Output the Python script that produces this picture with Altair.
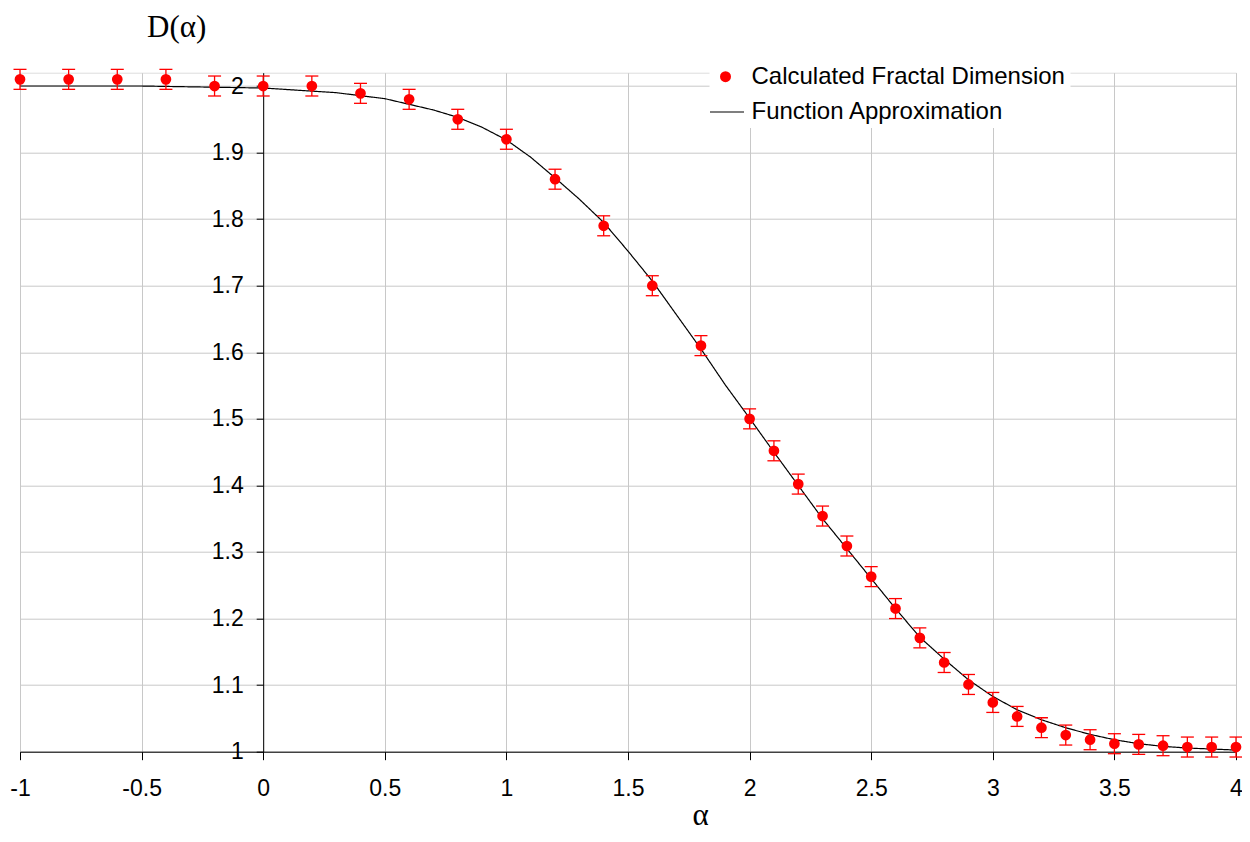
import altair as alt
import pandas as pd

# Calculated fractal dimension (points with error bars)
pt_x = [-1, -0.8, -0.6, -0.4, -0.2, 0, 0.2, 0.4, 0.6, 0.8, 1.0, 1.2, 1.4, 1.6, 1.8,
        2.0, 2.1, 2.2, 2.3, 2.4, 2.5, 2.6, 2.7, 2.8, 2.9, 3.0, 3.1, 3.2, 3.3, 3.4,
        3.5, 3.6, 3.7, 3.8, 3.9, 4.0]
pt_y = [2.01, 2.01, 2.01, 2.01, 2.00, 2.00, 2.00, 1.989, 1.98, 1.95, 1.92, 1.86, 1.79,
        1.70, 1.61, 1.50, 1.452, 1.402, 1.354, 1.309, 1.263, 1.215, 1.171, 1.134,
        1.101, 1.074, 1.053, 1.036, 1.025, 1.018, 1.012, 1.011, 1.009, 1.007, 1.007,
        1.007]
pt_err = [0.015] * len(pt_x)

# Function approximation (line)
ln_x = [-1, -0.5, 0, 0.3, 0.5, 0.7, 0.8, 0.9, 1.0, 1.1, 1.2, 1.3, 1.4, 1.5, 1.6, 1.7,
        1.8, 1.9, 2.0, 2.1, 2.2, 2.3, 2.4, 2.5, 2.6, 2.7, 2.8, 2.9, 3.0, 3.1, 3.2,
        3.3, 3.4, 3.5, 3.6, 3.7, 3.8, 3.9, 4.0]
ln_y = [2.000, 2.000, 1.997, 1.990, 1.981, 1.964, 1.953, 1.938, 1.919, 1.893, 1.862,
        1.830, 1.795, 1.752, 1.707, 1.656, 1.605, 1.551, 1.501, 1.450, 1.400, 1.350,
        1.305, 1.260, 1.215, 1.172, 1.139, 1.108, 1.083, 1.063, 1.048, 1.036, 1.026,
        1.018, 1.012, 1.008, 1.0055, 1.004, 1.0025]

x_ticks = [-1, -0.5, 0, 0.5, 1, 1.5, 2, 2.5, 3, 3.5, 4]
y_ticks = [1, 1.1, 1.2, 1.3, 1.4, 1.5, 1.6, 1.7, 1.8, 1.9, 2]

series_pts = "Calculated Fractal Dimension"
series_line = "Function Approximation"

pts = pd.DataFrame({"x": pt_x, "y": pt_y, "err": pt_err})
pts["lo"] = pts["y"] - pts["err"]
pts["hi"] = pts["y"] + pts["err"]
pts["series"] = series_pts
line = pd.DataFrame({"x": ln_x, "y": ln_y, "series": series_line})

W, H = 1216, 679
XOFF = W / 5.0  # pixel distance from alpha=-1 to alpha=0
SANS = "Liberation Sans"
SERIF = "Liberation Serif"
RED = "#ff0000"

x_axis = alt.Axis(
    values=x_ticks, labelExpr="'' + datum.value", grid=True, gridColor="#c8c8c8",
    gridWidth=1, domainColor="black", tickColor="black", tickSize=8,
    labelFont=SANS, labelFontSize=23, labelColor="black", labelPadding=18,
    labelFlush=False, labelOverlap=False,
    title="α", titleFont=SERIF, titleFontSize=31, titleFontWeight="normal",
    titleColor="black", titleX=680, titleY=73, titleAlign="center",
    titleBaseline="alphabetic",
)
y_axis = alt.Axis(
    values=y_ticks, labelExpr="'' + datum.value", grid=True, gridColor="#c8c8c8",
    gridWidth=1, domainColor="black", tickColor="black", tickSize=7,
    labelFont=SANS, labelFontSize=23, labelColor="black", labelPadding=13,
    labelFlush=False, labelOverlap=False, offset=-XOFF,
    title="D(α)", titleFont=SERIF, titleFontSize=31, titleFontWeight="normal",
    titleColor="black", titleAngle=0, titleX=-87, titleY=-36, titleAlign="center",
    titleBaseline="alphabetic",
)
xs = alt.Scale(domain=[-1, 4], nice=False, zero=False)
ys = alt.Scale(domain=[1, 2.02], nice=False, zero=False)

X = alt.X("x:Q", scale=xs, axis=x_axis)
Y = alt.Y("y:Q", scale=ys, axis=y_axis)

line_layer = alt.Chart(line).mark_line(color="black", strokeWidth=1.2).encode(
    x=X, y=Y,
    strokeDash=alt.StrokeDash(
        "series:N",
        scale=alt.Scale(domain=[series_line], range=[[1, 0]]),
        legend=alt.Legend(
            orient="none", legendX=686, legendY=18.3, title=None, padding=3,
            symbolType="stroke", symbolSize=1156, symbolStrokeColor="black",
            symbolStrokeWidth=1.2, labelFont=SANS, labelFontSize=24,
            labelColor="black", labelOffset=6.5, labelLimit=600,
            fillColor="white", strokeColor="white",
        ),
    ),
)

err_rule = alt.Chart(pts).mark_rule(color=RED, strokeWidth=1.3).encode(
    x=X, y=alt.Y("lo:Q", scale=ys, axis=y_axis), y2="hi:Q"
)
cap_lo = alt.Chart(pts).mark_tick(color=RED, orient="horizontal", size=13,
                                  thickness=1.3, opacity=1).encode(
    x=X, y=alt.Y("lo:Q", scale=ys, axis=y_axis)
)
cap_hi = alt.Chart(pts).mark_tick(color=RED, orient="horizontal", size=13,
                                  thickness=1.3, opacity=1).encode(
    x=X, y=alt.Y("hi:Q", scale=ys, axis=y_axis)
)

point_layer = alt.Chart(pts).mark_circle(size=115, opacity=1).encode(
    x=X, y=Y,
    color=alt.Color(
        "series:N",
        scale=alt.Scale(domain=[series_pts], range=[RED]),
        legend=alt.Legend(
            orient="none", legendX=689.5, legendY=-12, title=None, padding=4,
            symbolType="circle", symbolSize=121, symbolOpacity=1,
            symbolStrokeWidth=0, labelFont=SANS, labelFontSize=24,
            labelColor="black", labelOffset=14, labelLimit=600,
            fillColor="white", strokeColor="white",
        ),
    ),
)

chart = alt.layer(line_layer, err_rule, cap_lo, cap_hi, point_layer).properties(
    width=W, height=H,
    autosize=alt.AutoSizeParams(type="none"),
    padding={"left": 12, "top": 64.7, "right": 6, "bottom": 80.3},
).configure_view(stroke=None).configure(background="white")

chart.save("out.html", embed_options={"renderer": "svg", "actions": False})
